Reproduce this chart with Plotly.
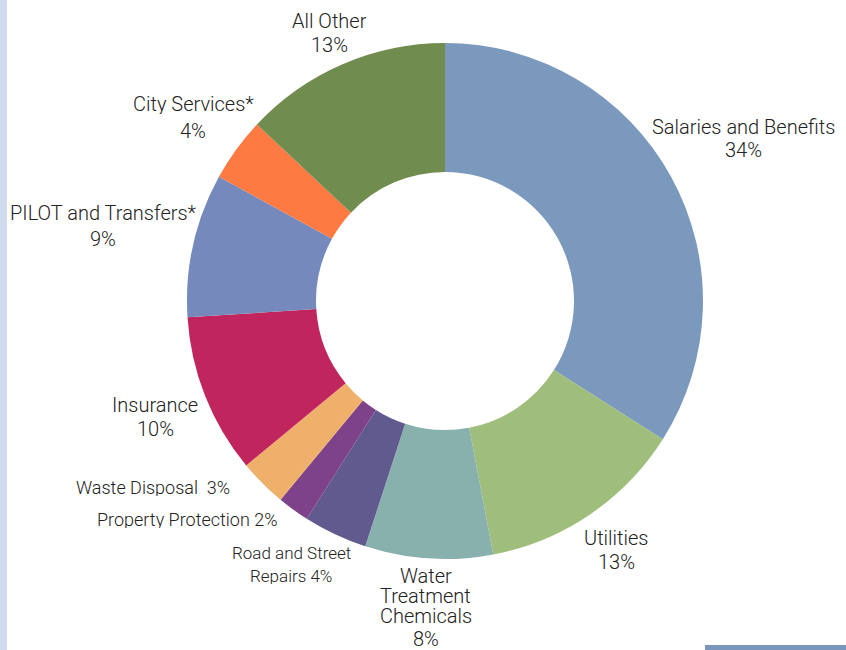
import plotly.graph_objects as go

categories = ["Salaries and Benefits", "Utilities", "Water Treatment Chemicals",
              "Road and Street Repairs", "Property Protection", "Waste Disposal",
              "Insurance", "PILOT and Transfers*", "City Services*", "All Other"]
values = [34, 13, 8, 4, 2, 3, 10, 9, 4, 13]
label_lines = [["Salaries and Benefits", "34%"], ["Utilities", "13%"],
               ["Water", "Treatment", "Chemicals", "8%"], ["Road and Street", "Repairs 4%"],
               ["Property Protection 2%"], ["Waste Disposal  3%"], ["Insurance", "10%"],
               ["PILOT and Transfers*", "9%"], ["City Services*", "4%"], ["All Other", "13%"]]

colors = ["#7b98bd", "#9fbe7b", "#88b1ae", "#615a8e", "#7d428a", "#eeb06b",
          "#c1255d", "#7689bc", "#fd7a43", "#718c4f"]

# label layout: center x and per-line center y in pixels, font size
W, H = 846, 650
label_x = [743, 616, 426, 291, 187, 153, 155, 103, 193, 329]
label_ys = [[127, 150], [538, 562], [576, 596, 616, 639], [552, 575], [519], [487],
            [405, 429], [213, 239], [104, 131], [21, 45]]
label_size = [20, 20, 20, 17, 18, 18, 20, 20, 20, 20]

cx, cy, r = 445, 301, 258
fig = go.Figure(go.Pie(
    labels=categories, values=values, sort=False, direction="clockwise", rotation=0,
    hole=0.5, marker=dict(colors=colors, line=dict(width=0)),
    textinfo="none", hoverinfo="label+percent", showlegend=False,
    domain=dict(x=[(cx - r) / W, (cx + r) / W], y=[1 - (cy + r) / H, 1 - (cy - r) / H]),
))

for lines, px, ys, fs in zip(label_lines, label_x, label_ys, label_size):
    for line, py in zip(lines, ys):
        fig.add_annotation(x=px / W, y=1 - py / H, xref="paper", yref="paper",
                           text=line, showarrow=False, xanchor="center", yanchor="middle",
                           height=fs, valign="middle", borderpad=0,
                           font=dict(family="Roboto", size=fs, color="#222222", weight=300))

# decorative edge bars
fig.add_shape(type="rect", xref="paper", yref="paper", x0=0, x1=7 / W, y0=0, y1=1,
              fillcolor="#d0dced", line=dict(width=0), layer="below")
fig.add_shape(type="rect", xref="paper", yref="paper", x0=705 / W, x1=1, y0=0, y1=5 / H,
              fillcolor="#7b96bd", line=dict(width=0), layer="below")

fig.update_layout(width=W, height=H, margin=dict(l=0, r=0, t=0, b=0),
                  paper_bgcolor="white", plot_bgcolor="white",
                  font=dict(family="Roboto", color="#222222"))
fig.write_html("out.html")
